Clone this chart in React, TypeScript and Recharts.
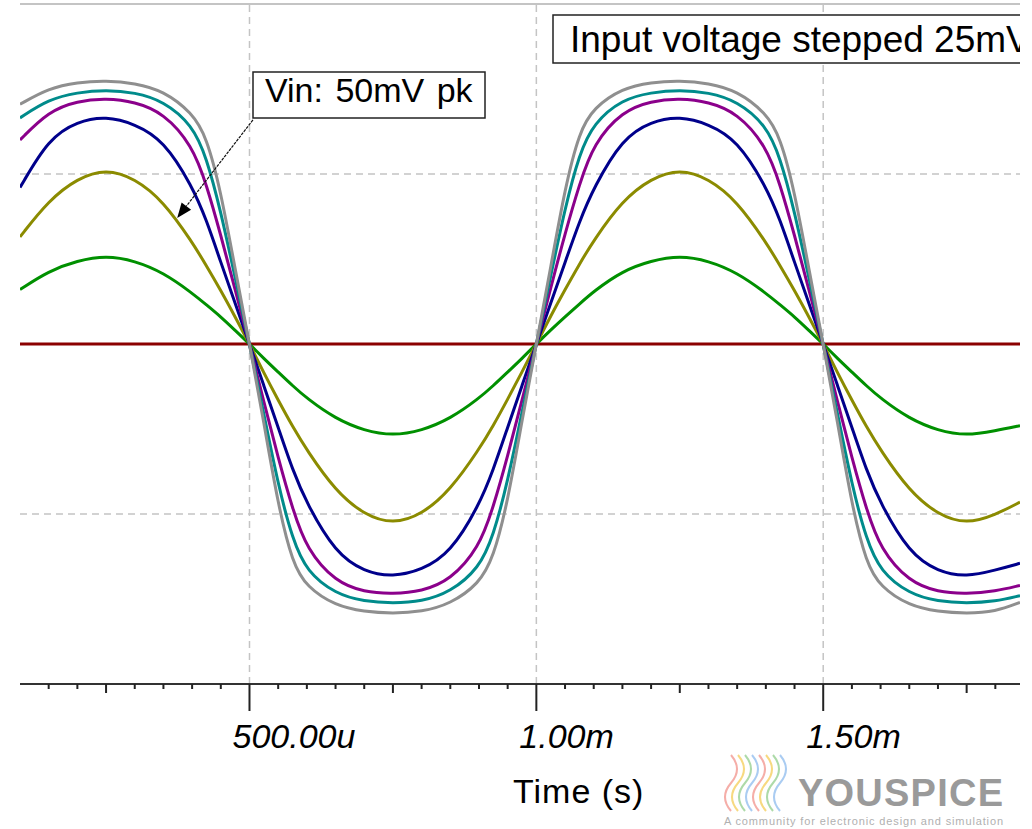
import React from 'react';
import { LineChart, Line, XAxis, YAxis, CartesianGrid, ReferenceLine } from 'recharts';

// time in ms
const times = [
  0.1, 0.15, 0.2, 0.25, 0.3, 0.35, 0.4, 0.425, 0.45, 0.475,
  0.5, 0.525, 0.55, 0.575, 0.6, 0.65, 0.7, 0.75, 0.8, 0.85, 0.9, 0.925, 0.95, 0.975,
  1.0, 1.025, 1.05, 1.075, 1.1, 1.15, 1.2, 1.25, 1.3, 1.35, 1.4, 1.425, 1.45, 1.475,
  1.5, 1.525, 1.55, 1.575, 1.6, 1.65, 1.7, 1.75, 1.8, 1.843,
];

// output for each input step (25mV .. 150mV)
const vin25 = [
  0.32, 0.43, 0.49, 0.52, 0.49, 0.42, 0.3, 0.23, 0.16, 0.08,
  0, -0.085, -0.165, -0.245, -0.32, -0.44, -0.51, -0.54, -0.51, -0.44, -0.32, -0.245, -0.165, -0.085,
  0, 0.082, 0.16, 0.235, 0.31, 0.43, 0.49, 0.52, 0.49, 0.42, 0.3, 0.23, 0.16, 0.08,
  0, -0.085, -0.165, -0.245, -0.32, -0.44, -0.51, -0.54, -0.51, -0.48,
];
const vin50 = [
  0.63, 0.845, 0.975, 1.03, 0.975, 0.84, 0.6, 0.46, 0.315, 0.16,
  0, -0.17, -0.33, -0.485, -0.625, -0.865, -1.005, -1.06, -1.005, -0.86, -0.62, -0.48, -0.325, -0.165,
  0, 0.165, 0.32, 0.47, 0.61, 0.845, 0.975, 1.03, 0.975, 0.84, 0.6, 0.46, 0.315, 0.16,
  0, -0.17, -0.33, -0.485, -0.625, -0.865, -1.005, -1.06, -1.005, -0.93,
];
const vin75 = [
  0.92, 1.21, 1.31, 1.34, 1.295, 1.2, 0.93, 0.73, 0.48, 0.24,
  0, -0.245, -0.49, -0.74, -0.94, -1.23, -1.34, -1.37, -1.33, -1.23, -0.95, -0.74, -0.49, -0.245,
  0, 0.24, 0.48, 0.72, 0.92, 1.21, 1.31, 1.34, 1.295, 1.2, 0.93, 0.73, 0.48, 0.24,
  0, -0.245, -0.49, -0.74, -0.94, -1.23, -1.34, -1.37, -1.33, -1.29,
];
const vin100 = [
  1.2, 1.37, 1.43, 1.445, 1.425, 1.36, 1.17, 0.94, 0.64, 0.32,
  0, -0.34, -0.67, -0.97, -1.21, -1.4, -1.46, -1.47, -1.455, -1.39, -1.2, -0.96, -0.66, -0.33,
  0, 0.33, 0.65, 0.94, 1.18, 1.37, 1.43, 1.445, 1.425, 1.36, 1.17, 0.94, 0.64, 0.32,
  0, -0.34, -0.67, -0.97, -1.21, -1.4, -1.46, -1.47, -1.455, -1.42,
];
const vin125 = [
  1.33, 1.44, 1.48, 1.495, 1.48, 1.43, 1.29, 1.1, 0.78, 0.39,
  0, -0.41, -0.83, -1.15, -1.34, -1.47, -1.515, -1.525, -1.515, -1.46, -1.32, -1.13, -0.81, -0.4,
  0, 0.4, 0.8, 1.12, 1.3, 1.44, 1.48, 1.495, 1.48, 1.43, 1.29, 1.1, 0.78, 0.39,
  0, -0.41, -0.83, -1.15, -1.34, -1.47, -1.515, -1.525, -1.515, -1.48,
];
const vin150 = [
  1.41, 1.505, 1.54, 1.55, 1.535, 1.49, 1.36, 1.22, 0.9, 0.44,
  0, -0.46, -0.95, -1.29, -1.43, -1.54, -1.575, -1.585, -1.575, -1.53, -1.41, -1.26, -0.93, -0.45,
  0, 0.45, 0.92, 1.25, 1.39, 1.505, 1.54, 1.55, 1.535, 1.49, 1.36, 1.22, 0.9, 0.44,
  0, -0.46, -0.95, -1.29, -1.43, -1.54, -1.575, -1.585, -1.575, -1.52,
];

// 0mV step: flat
const vin0Times = [0.1, 1.843];
const vin0 = [0, 0];

const xTicks = [
  0.15, 0.2, 0.25, 0.3, 0.35, 0.4, 0.45, 0.5, 0.55, 0.6, 0.65, 0.7, 0.75, 0.8, 0.85, 0.9, 0.95,
  1.0, 1.05, 1.1, 1.15, 1.2, 1.25, 1.3, 1.35, 1.4, 1.45, 1.5, 1.55, 1.6, 1.65, 1.7, 1.75, 1.8,
];
const majorTicks = [0.5, 1.0, 1.5];
const majorLabels = ['500.00u', '1.00m', '1.50m'];
const mediumTicks = [0.25, 0.75, 1.25, 1.75];
const yTicks = [-2, -1, 0, 1, 2];

const arrowFrom = { x: 0.506, y: 1.318 };
const arrowTo = { x: 0.374, y: 0.741 };

const data = times.map((t, i) => ({
  t,
  v25: vin25[i],
  v50: vin50[i],
  v75: vin75[i],
  v100: vin100[i],
  v125: vin125[i],
  v150: vin150[i],
}));
const flatData = vin0Times.map((t, i) => ({ t, v0: vin0[i] }));

const FONT = '"Liberation Sans", Arial, sans-serif';

const near = (a: number, b: number) => Math.abs(a - b) < 1e-6;

const TimeTick = (props: any) => {
  const { x, y, payload } = props;
  const v = payload.value;
  const mi = majorTicks.findIndex((m) => near(m, v));
  const isMedium = mediumTicks.some((m) => near(m, v));
  const len = mi >= 0 ? 27 : isMedium ? 9 : 5;
  return (
    <g>
      <line x1={x} y1={y} x2={x} y2={y + len} stroke="#222" strokeWidth={2} />
      {mi >= 0 && (
        <text x={x - 17} y={y + 64} fontFamily={FONT} fontSize={34} fontStyle="italic" fill="#000">
          {majorLabels[mi]}
        </text>
      )}
    </g>
  );
};

const Arrow = (props: any) => {
  const { x1, y1, x2, y2 } = props;
  const dx = x2 - x1;
  const dy = y2 - y1;
  const len = Math.sqrt(dx * dx + dy * dy);
  const ux = dx / len;
  const uy = dy / len;
  const hl = 15;
  const hw = 6;
  const bx = x2 - ux * hl;
  const by = y2 - uy * hl;
  return (
    <g>
      <line x1={x1} y1={y1} x2={bx} y2={by} stroke="#111" strokeWidth={1.2} strokeDasharray="3 1" />
      <polygon
        points={`${x2},${y2} ${bx - uy * hw},${by + ux * hw} ${bx + uy * hw},${by - ux * hw}`}
        fill="#000"
      />
    </g>
  );
};

const waveColors = ['#f4a09a', '#f6d36b', '#9fd49a', '#9cc4f0'];

const App: React.FC = () => {
  return (
    <div style={{ position: 'relative', width: 1032, height: 829, overflow: 'hidden', background: '#fff' }}>
      <style>{'body{margin:0}'}</style>
      <LineChart
        width={1032}
        height={829}
        data={data}
        margin={{ top: 4, right: 12, bottom: 0, left: 20 }}
      >
        <CartesianGrid vertical={false} stroke="#c4c4c4" strokeDasharray="7 5" strokeWidth={1.5} />
        <XAxis
          dataKey="t"
          type="number"
          domain={[0.1, 1.843]}
          allowDataOverflow
          ticks={xTicks}
          interval={0}
          height={145}
          tickSize={0}
          tickMargin={0}
          tickLine={false}
          axisLine={{ stroke: '#333', strokeWidth: 2 }}
          tick={<TimeTick />}
        />
        <YAxis hide type="number" domain={[-2, 2]} ticks={yTicks} />
        <ReferenceLine y={2} stroke="#c4c4c4" strokeWidth={2} />
        {majorTicks.map((m) => (
          <ReferenceLine key={m} x={m} stroke="#c4c4c4" strokeDasharray="7 5" strokeWidth={1.5} />
        ))}
        <Line data={flatData} dataKey="v0" stroke="#8b0000" strokeWidth={3} dot={false} isAnimationActive={false} />
        <Line type="basis" dataKey="v25" stroke="#009000" strokeWidth={3} dot={false} isAnimationActive={false} />
        <Line type="basis" dataKey="v50" stroke="#8b8b00" strokeWidth={3} dot={false} isAnimationActive={false} />
        <Line type="basis" dataKey="v75" stroke="#00008b" strokeWidth={3} dot={false} isAnimationActive={false} />
        <Line type="basis" dataKey="v100" stroke="#8b008b" strokeWidth={3} dot={false} isAnimationActive={false} />
        <Line type="basis" dataKey="v125" stroke="#008b8b" strokeWidth={3} dot={false} isAnimationActive={false} />
        <Line type="basis" dataKey="v150" stroke="#8f8f8f" strokeWidth={3} dot={false} isAnimationActive={false} />
        <ReferenceLine segment={[arrowFrom, arrowTo]} shape={<Arrow />} />
      </LineChart>

      <svg
        width={1032}
        height={829}
        style={{ position: 'absolute', left: 0, top: 0, pointerEvents: 'none' }}
        fontFamily={FONT}
      >
        <svg x={0} y={0} width={1020} height={829} overflow="hidden">
          <rect x={553} y={15} width={520} height={48} fill="#fff" stroke="#222" strokeWidth={1.5} />
          <text x={570} y={52} fontSize={37} fill="#000">Input voltage stepped 25mV</text>
        </svg>

        <rect x={253} y={72} width={232} height={46} fill="#fff" stroke="#222" strokeWidth={1.5} />
        <text x={265} y={102} fontSize={34} fill="#000" wordSpacing={3}>Vin: 50mV pk</text>

        <text x={513} y={803} fontSize={34} fill="#000" letterSpacing={1}>Time (s)</text>

        <g opacity={0.85}>
          {[0, 1, 2, 3, 4, 5, 6, 7].map((i) => {
            const x0 = 731 + i * 7;
            return (
              <path
                key={i}
                d={`M ${x0} 755 Q ${x0 + 12} 769 ${x0} 783 T ${x0} 811`}
                fill="none"
                stroke={waveColors[i % 4]}
                strokeWidth={2}
              />
            );
          })}
        </g>
        <text x={798} y={806} fontSize={38} fontWeight="bold" fill="#9a9a9a" textLength={205} lengthAdjust="spacing">
          YOUSPICE
        </text>
        <text x={724} y={825} fontSize={11} fill="#b0b0b0" textLength={279} lengthAdjust="spacing">
          A community for electronic design and simulation
        </text>
      </svg>
    </div>
  );
};

export default App;
